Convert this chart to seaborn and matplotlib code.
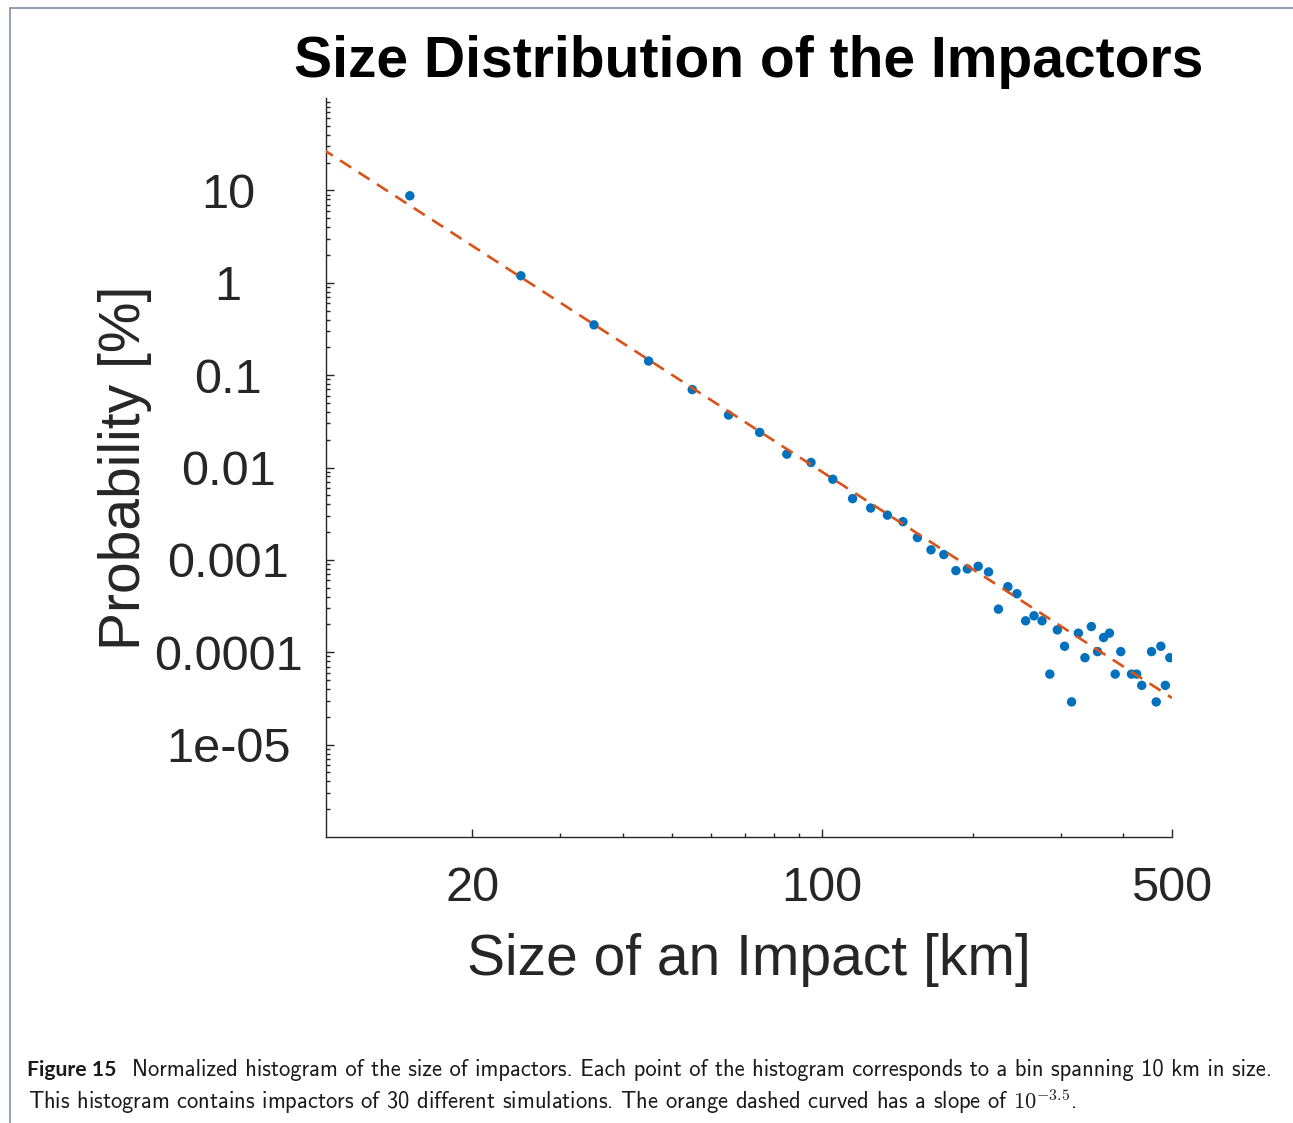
import numpy as np
import pandas as pd
import matplotlib
matplotlib.use("Agg")
import matplotlib.pyplot as plt
import seaborn as sns
from matplotlib.ticker import FixedLocator, FixedFormatter, LogLocator, NullFormatter
from matplotlib.lines import Line2D

# ---------------- data ----------------
size_km = [15, 25, 35, 45, 55, 65, 75, 85, 95, 105,
           115, 125, 135, 145, 155, 165, 175, 185, 195, 205,
           215, 225, 235, 245, 255, 265, 275, 285, 295, 305,
           315, 325, 335, 345, 355, 365, 375, 385, 395,
           415, 425, 435, 455, 465, 475, 485, 495]
probability = [8.74, 1.19, 0.350, 0.142, 0.0697, 0.0370, 0.0240, 0.01395, 0.01133, 0.00746,
               0.00460, 0.00364, 0.00305, 0.00259, 0.001746, 0.001285, 0.001142, 0.000765, 0.000798, 0.000852,
               0.000741, 0.000293, 0.000513, 0.000430, 0.000219, 0.000248, 0.000219, 5.8e-5, 0.0001746, 0.0001161,
               2.90e-5, 0.000161, 8.73e-5, 0.0001897, 0.0001016, 0.0001442, 0.000161, 5.8e-5, 0.0001016,
               5.8e-5, 5.8e-5, 4.38e-5, 0.0001016, 2.90e-5, 0.0001161, 4.38e-5, 8.73e-5]

fit_size = [10, 500]
fit_prob = [28.4, 3.2e-5]

x_ticks = [20, 100, 500]
x_tick_labels = ["20", "100", "500"]
y_ticks = [1e-5, 1e-4, 1e-3, 1e-2, 0.1, 1, 10]
y_tick_labels = ["1e-05", "0.0001", "0.001", "0.01", "0.1", "1", "10"]

title = "Size Distribution of the Impactors"
x_label = "Size of an Impact [km]"
y_label = "Probability [%]"
caption_bold = "Figure 15"
caption_line1 = ("Normalized histogram of the size of impactors. Each point of the histogram "
                 "corresponds to a bin spanning 10 km in size.")
caption_line2 = ("This histogram contains impactors of 30 different simulations. "
                 "The orange dashed curved has a slope of $10^{-3.5}$.")

# ---------------- style ----------------
sns.set_theme(style="white")
plt.rcParams['font.family'] = ['Liberation Sans', 'DejaVu Sans']
plt.rcParams['mathtext.fontset'] = 'cm'

W, H = 1293, 1123
fig = plt.figure(figsize=(W / 100, H / 100), dpi=100)
fig.patch.set_facecolor("white")

ax_l, ax_r, ax_t, ax_b = 326, 1172, 98, 837
ax = fig.add_axes([ax_l / W, 1 - ax_b / H, (ax_r - ax_l) / W, (ax_b - ax_t) / H])
ax.set_xscale("log")
ax.set_yscale("log")

df = pd.DataFrame({"size": size_km, "prob": probability})
fit_df = pd.DataFrame({"size": fit_size, "prob": fit_prob})

sns.scatterplot(data=df, x="size", y="prob", ax=ax, color="#0072BD", s=46,
                edgecolor="none", linewidth=0, zorder=2, legend=False)
sns.lineplot(data=fit_df, x="size", y="prob", ax=ax, color="#D95319", linewidth=1.9,
             linestyle=(0, (5.0, 3.3)), zorder=3, legend=False)

ax.set_xlim(10.2, 500)
ax.set_ylim(1e-6, 100)

dark = "#262626"
ax.xaxis.set_major_locator(FixedLocator(x_ticks))
ax.xaxis.set_major_formatter(FixedFormatter(x_tick_labels))
ax.xaxis.set_minor_locator(LogLocator(base=10, subs=np.arange(2, 10), numticks=20))
ax.xaxis.set_minor_formatter(NullFormatter())
ax.yaxis.set_major_locator(FixedLocator(y_ticks))
ax.yaxis.set_major_formatter(FixedFormatter(y_tick_labels))
ax.yaxis.set_minor_locator(LogLocator(base=10, subs=np.arange(2, 10), numticks=20))
ax.yaxis.set_minor_formatter(NullFormatter())

ax.tick_params(which="both", direction="in", color=dark, width=1.0,
               top=False, right=False, left=True, bottom=True)
ax.tick_params(which="major", length=5.8, labelsize=35, labelcolor=dark)
ax.tick_params(which="minor", length=2.9)
ax.tick_params(axis="x", which="major", pad=21)
ax.tick_params(axis="y", which="major", pad=70.5)
for lbl in ax.get_yticklabels():
    lbl.set_horizontalalignment("center")

for s in ["top", "right"]:
    ax.spines[s].set_visible(False)
for s in ["left", "bottom"]:
    ax.spines[s].set_color(dark)
    ax.spines[s].set_linewidth(1.0)
ax.grid(False)

ax.set_xlabel(x_label, fontsize=41, color=dark, va="top")
ax.xaxis.set_label_coords(0.5, (ax_b - 933) / (ax_b - ax_t))
ax.set_ylabel(y_label, fontsize=41, color=dark)
ax.yaxis.set_label_coords((152 - ax_l) / (ax_r - ax_l), 0.5)
ax.set_title(title, fontsize=41, fontweight="bold", color="black", pad=15)

# ---------------- page frame ----------------
frame_col = "#7f8ea6"
fig.add_artist(Line2D([10 / W, 1.0], [1 - 8 / H, 1 - 8 / H], transform=fig.transFigure,
                      color=frame_col, lw=1.2))
fig.add_artist(Line2D([10 / W, 10 / W], [1 - 8 / H, 0.0], transform=fig.transFigure,
                      color=frame_col, lw=1.2))

# ---------------- caption ----------------
renderer = fig.canvas.get_renderer()
cap_color = "#1a1a1a"

def fit_text(x0, x1, ybase, text, family, weight="normal", size=13.0):
    t = fig.text(x0 / W, 1 - ybase / H, text, fontsize=size, family=family,
                 fontweight=weight, color=cap_color, ha="left", va="baseline")
    w = t.get_window_extent(renderer=renderer).width
    t.set_fontsize(size * (x1 - x0) / w)
    return t

fit_text(27.3, 116.7, 1076, caption_bold, ["Lato", "DejaVu Sans"], weight="bold", size=13)
t1 = fit_text(131.7, 1272, 1076, caption_line1, ["cmss10", "DejaVu Sans"], size=13)
fs = t1.get_fontsize()
fig.text(28.3 / W, 1 - 1109.3 / H, caption_line2, fontsize=fs, family=["cmss10", "DejaVu Sans"],
         color=cap_color, ha="left", va="baseline")

fig.savefig("out.png", dpi=100, facecolor="white")
